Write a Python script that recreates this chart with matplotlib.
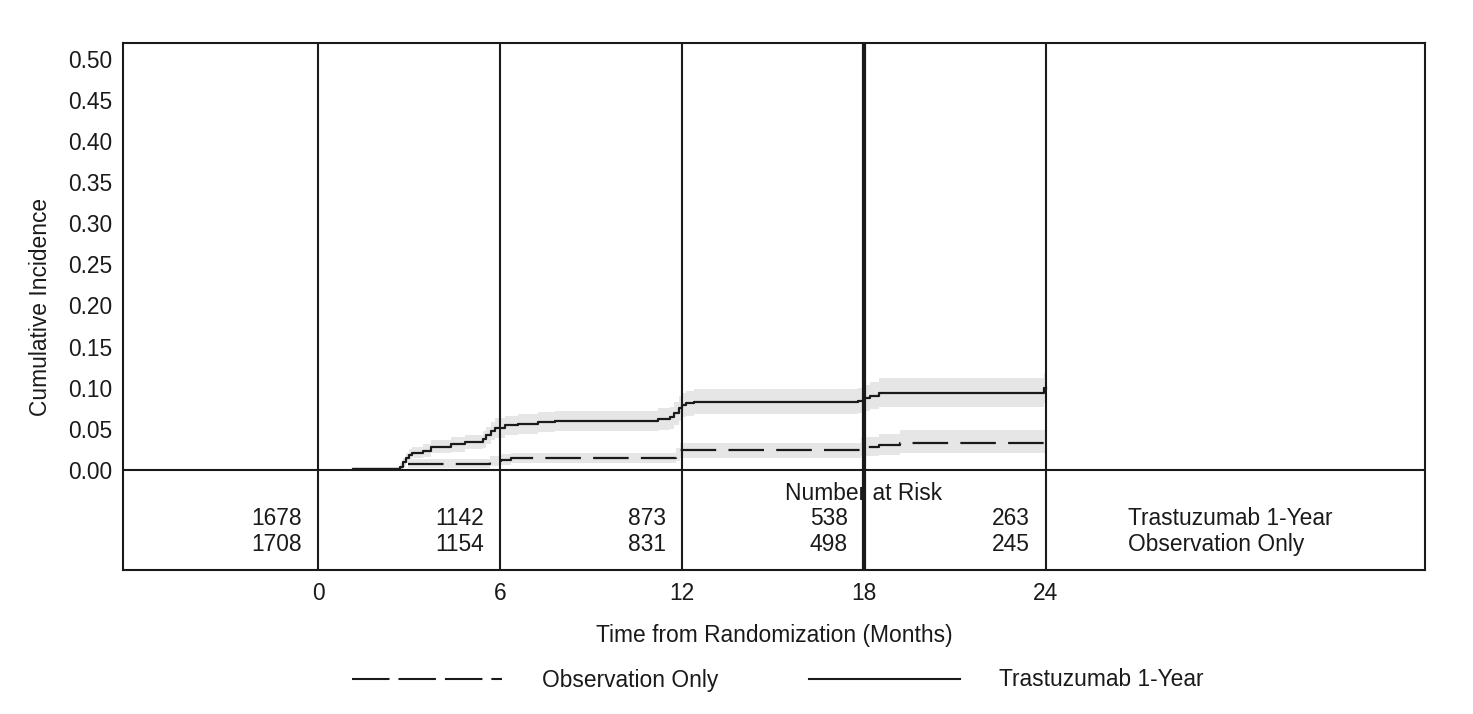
import matplotlib
matplotlib.use("Agg")
import matplotlib.pyplot as plt
from matplotlib.lines import Line2D
import numpy as np

plt.rcParams['font.family'] = ['Liberation Sans', 'DejaVu Sans']
plt.rcParams['font.size'] = 16.4

# ---- data ----
tra_time = [1.15, 2.7, 2.8, 2.9, 3.0, 3.1, 3.46, 3.73, 4.38, 4.85, 5.44, 5.55, 5.7, 5.84,
            6.17, 6.6, 7.25, 7.8, 11.2, 11.6, 11.75, 11.9, 12.0, 12.15, 12.4, 17.8, 18.0,
            18.2, 18.5, 23.95, 24.0]
tra_est = [0.001, 0.004, 0.009, 0.014, 0.018, 0.021, 0.023, 0.028, 0.031, 0.034, 0.037, 0.042,
           0.047, 0.051, 0.054, 0.056, 0.058, 0.060, 0.062, 0.064, 0.069, 0.075, 0.079, 0.081,
           0.083, 0.084, 0.087, 0.090, 0.094, 0.100, 0.100]
tra_lo = [0.000, 0.001, 0.004, 0.008, 0.011, 0.014, 0.016, 0.020, 0.022, 0.025, 0.027, 0.031,
          0.036, 0.039, 0.042, 0.044, 0.046, 0.047, 0.049, 0.050, 0.055, 0.060, 0.064, 0.066,
          0.068, 0.069, 0.071, 0.074, 0.077, 0.081, 0.081]
tra_hi = [0.003, 0.008, 0.014, 0.020, 0.025, 0.028, 0.031, 0.036, 0.040, 0.043, 0.047, 0.052,
          0.058, 0.063, 0.066, 0.068, 0.070, 0.072, 0.075, 0.077, 0.083, 0.090, 0.094, 0.096,
          0.098, 0.099, 0.103, 0.107, 0.112, 0.118, 0.118]

obs_time = [2.97, 5.67, 6.05, 6.35, 11.8, 11.95, 17.9, 18.5, 19.2, 24.0]
obs_est = [0.007, 0.011, 0.012, 0.015, 0.019, 0.024, 0.028, 0.030, 0.033, 0.033]
obs_lo = [0.002, 0.005, 0.006, 0.008, 0.011, 0.014, 0.017, 0.018, 0.020, 0.020]
obs_hi = [0.013, 0.017, 0.019, 0.021, 0.027, 0.033, 0.040, 0.044, 0.048, 0.048]

risk_times = [0, 6, 12, 18, 24]
risk_tra = [1678, 1142, 873, 538, 263]
risk_obs = [1708, 1154, 831, 498, 245]
row_labels = ["Trastuzumab 1-Year", "Observation Only"]
yticks = [0.00, 0.05, 0.10, 0.15, 0.20, 0.25, 0.30, 0.35, 0.40, 0.45, 0.50]

ink = '#1a1a1a'
band = '#e6e6e6'

fig = plt.figure(figsize=(14.73, 7.14), dpi=100)
ax = fig.add_axes([0.0835, 0.2017, 0.8839, 0.7381])

ax.set_xlim(-6.43, 36.5)
ax.set_ylim(-0.1217, 0.519)

# CI bands
ax.fill_between(tra_time, tra_lo, tra_hi, step='post', color=band, lw=0, zorder=1)
ax.fill_between(obs_time, obs_lo, obs_hi, step='post', color=band, lw=0, zorder=1)

# curves
ax.step(tra_time, tra_est, where='post', color=ink, lw=1.6, zorder=3)
ax.step(obs_time, obs_est, where='post', color=ink, lw=1.6, dashes=(16, 5.5), zorder=3)

# grid verticals and zero line
for t in risk_times:
    ax.axvline(t, color=ink, lw=3.0 if t == 18 else 1.5, zorder=4)
ax.axhline(0, color=ink, lw=1.5, zorder=4)

# risk table
ax.text(18, -0.0285, "Number at Risk", ha='center', va='center', color=ink, zorder=2)
for t, a, b in zip(risk_times, risk_tra, risk_obs):
    ax.text(t - 0.53, -0.0592, str(a), ha='right', va='center', color=ink)
    ax.text(t - 0.53, -0.0908, str(b), ha='right', va='center', color=ink)
ax.text(26.7, -0.0592, row_labels[0], ha='left', va='center', color=ink)
ax.text(26.7, -0.0908, row_labels[1], ha='left', va='center', color=ink)

ax.set_xticks(risk_times)
ax.set_xticklabels([str(t) for t in risk_times])
ax.set_yticks(yticks)
ax.set_yticklabels([f"{v:.2f}" for v in yticks])
ax.tick_params(axis='both', length=0, colors=ink)
ax.tick_params(axis='x', pad=9)
ax.tick_params(axis='y', pad=8)
for s in ax.spines.values():
    s.set_linewidth(1.5)
    s.set_color(ink)

ax.set_xlabel("Time from Randomization (Months)", color=ink, labelpad=13)
ax.set_ylabel("Cumulative Incidence", color=ink, labelpad=11)

handles = [Line2D([], [], color=ink, lw=1.5, dashes=(18, 4.3)),
           Line2D([], [], color=ink, lw=1.5)]
fig.legend(handles, ["Observation Only", "Trastuzumab 1-Year"], ncol=2, frameon=False,
           loc='center', bbox_to_anchor=(0.528, 1 - 680 / 714), handlelength=6.6,
           handletextpad=1.75, columnspacing=4.0, labelcolor=ink)

fig.savefig("out.png", dpi=100, facecolor='white')
